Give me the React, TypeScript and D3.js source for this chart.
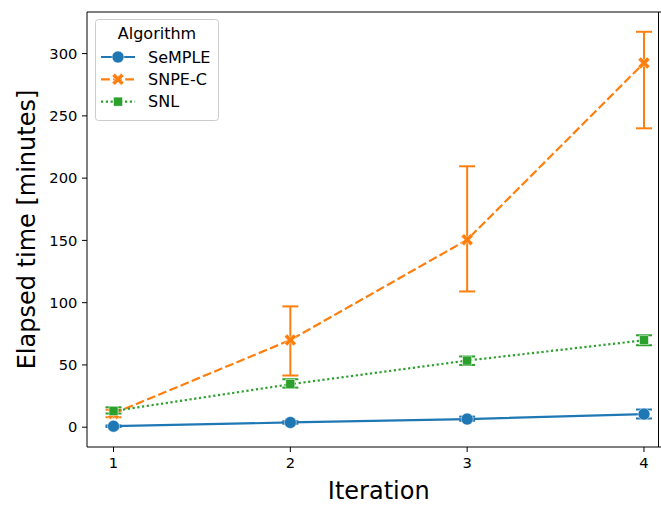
import React from "react";
import * as d3 from "d3";

const iterations = [1, 2, 3, 4];
const semple = [0.8, 3.8, 6.5, 10.5];
const sempleLo = [0.2, 2.8, 5.2, 7.0];
const sempleHi = [1.4, 4.8, 8.5, 14.2];
const snpec = [11, 70, 150.5, 292.5];
const snpecLo = [8, 41.5, 109, 240];
const snpecHi = [14, 97, 209.5, 317.5];
const snl = [13, 34.5, 53.5, 69.8];
const snlLo = [11, 31.8, 50, 65.8];
const snlHi = [16, 38.5, 56.8, 73.8];
const yTicks = [0, 50, 100, 150, 200, 250, 300];

const W = 661, H = 506;
const left = 87, top = 12, bottom = 447;

export default function App() {
  const x = d3.scaleLinear().domain([0.85, 4.15]).range([left, 670.5]);
  const y = d3.scaleLinear().domain([-15.9, 333.4]).range([bottom, top]);
  const line = d3.line<[number, number]>().x(d => x(d[0])).y(d => y(d[1]));

  const series = [
    { name: "SeMPLE", color: "#1f77b4", vals: semple, lo: sempleLo, hi: sempleHi, dash: "none", marker: "o" },
    { name: "SNPE-C", color: "#ff7f0e", vals: snpec, lo: snpecLo, hi: snpecHi, dash: "8.8,3.3", marker: "X" },
    { name: "SNL", color: "#2ca02c", vals: snl, lo: snlLo, hi: snlHi, dash: "2.2,2.6", marker: "s" },
  ];

  const markerEl = (m: string, cx: number, cy: number, color: string, key?: string) => {
    if (m === "o") return <circle key={key} cx={cx} cy={cy} r={6} fill={color} stroke="#fff" strokeWidth={0.5} />;
    if (m === "s") return <rect key={key} x={cx - 4.5} y={cy - 4.5} width={9} height={9} fill={color} stroke="#fff" strokeWidth={0.5} />;
    const a = 6, t = 2.8;
    const p = `M${cx - a + t},${cy - a} L${cx},${cy - t} L${cx + a - t},${cy - a} L${cx + a},${cy - a + t} L${cx + t},${cy} L${cx + a},${cy + a - t} L${cx + a - t},${cy + a} L${cx},${cy + t} L${cx - a + t},${cy + a} L${cx - a},${cy + a - t} L${cx - t},${cy} L${cx - a},${cy - a + t} Z`;
    return <path key={key} d={p} fill={color} stroke="#fff" strokeWidth={0.5} />;
  };

  const font = "DejaVu Sans, sans-serif";

  return (
    <svg width={W} height={H} style={{ position: "absolute", left: 0, top: 0 }} fontFamily={font}>
      <rect width={W} height={H} fill="#fff" />
      <defs>
        <clipPath id="plot"><rect x={left} y={top} width={W - left} height={bottom - top} /></clipPath>
      </defs>
      <g clipPath="url(#plot)">
        {series.map(s => (
          <g key={s.name}>
            <path d={line(iterations.map((it, i) => [it, s.vals[i]] as [number, number])) || ""} fill="none" stroke={s.color} strokeWidth={2.2} strokeDasharray={s.dash} />
            {iterations.map((it, i) => (
              <g key={i} stroke={s.color} strokeWidth={2}>
                <line x1={x(it)} x2={x(it)} y1={y(s.lo[i])} y2={y(s.hi[i])} />
                <line x1={x(it) - 8} x2={x(it) + 8} y1={y(s.lo[i])} y2={y(s.lo[i])} />
                <line x1={x(it) - 8} x2={x(it) + 8} y1={y(s.hi[i])} y2={y(s.hi[i])} />
              </g>
            ))}
            {iterations.map((it, i) => markerEl(s.marker, x(it), y(s.vals[i]), s.color, String(i)))}
          </g>
        ))}
      </g>
      {/* spines */}
      <g stroke="#000" strokeWidth={1} fill="none">
        <line x1={left} x2={left} y1={top} y2={bottom} />
        <line x1={left} x2={W} y1={bottom} y2={bottom} />
        <line x1={left} x2={W} y1={top} y2={top} />
        <line x1={W - 2.5} x2={W - 2.5} y1={top} y2={bottom} />
      </g>
      {yTicks.map(t => (
        <g key={t}>
          <line x1={left - 5} x2={left} y1={y(t)} y2={y(t)} stroke="#000" />
          <text x={left - 9.6} y={y(t)} dy="0.35em" textAnchor="end" fontSize={14.7}>{t}</text>
        </g>
      ))}
      {iterations.map(t => (
        <g key={t}>
          <line x1={x(t)} x2={x(t)} y1={bottom} y2={bottom + 5} stroke="#000" />
          <text x={x(t)} y={bottom + 21} textAnchor="middle" fontSize={14.7}>{t}</text>
        </g>
      ))}
      <text x={x(2.5)} y={499} textAnchor="middle" fontSize={24}>Iteration</text>
      <text transform={`translate(35,${(top + bottom) / 2}) rotate(-90)`} textAnchor="middle" fontSize={24}>Elapsed time [minutes]</text>
      {/* legend */}
      <g>
        <rect x={95.5} y={19.5} width={123} height={101} rx={3} fill="#fff" fillOpacity={0.8} stroke="#ccc" />
        <text x={157} y={39} textAnchor="middle" fontSize={16}>Algorithm</text>
        {series.map((s, i) => {
          const ly = 57 + i * 22.3;
          return (
            <g key={s.name}>
              <line x1={101} x2={135} y1={ly} y2={ly} stroke={s.color} strokeWidth={2.2} strokeDasharray={s.dash} />
              {markerEl(s.marker, 118, ly, s.color)}
              <text x={148} y={ly} dy="0.35em" fontSize={16}>{s.name}</text>
            </g>
          );
        })}
      </g>
    </svg>
  );
}
